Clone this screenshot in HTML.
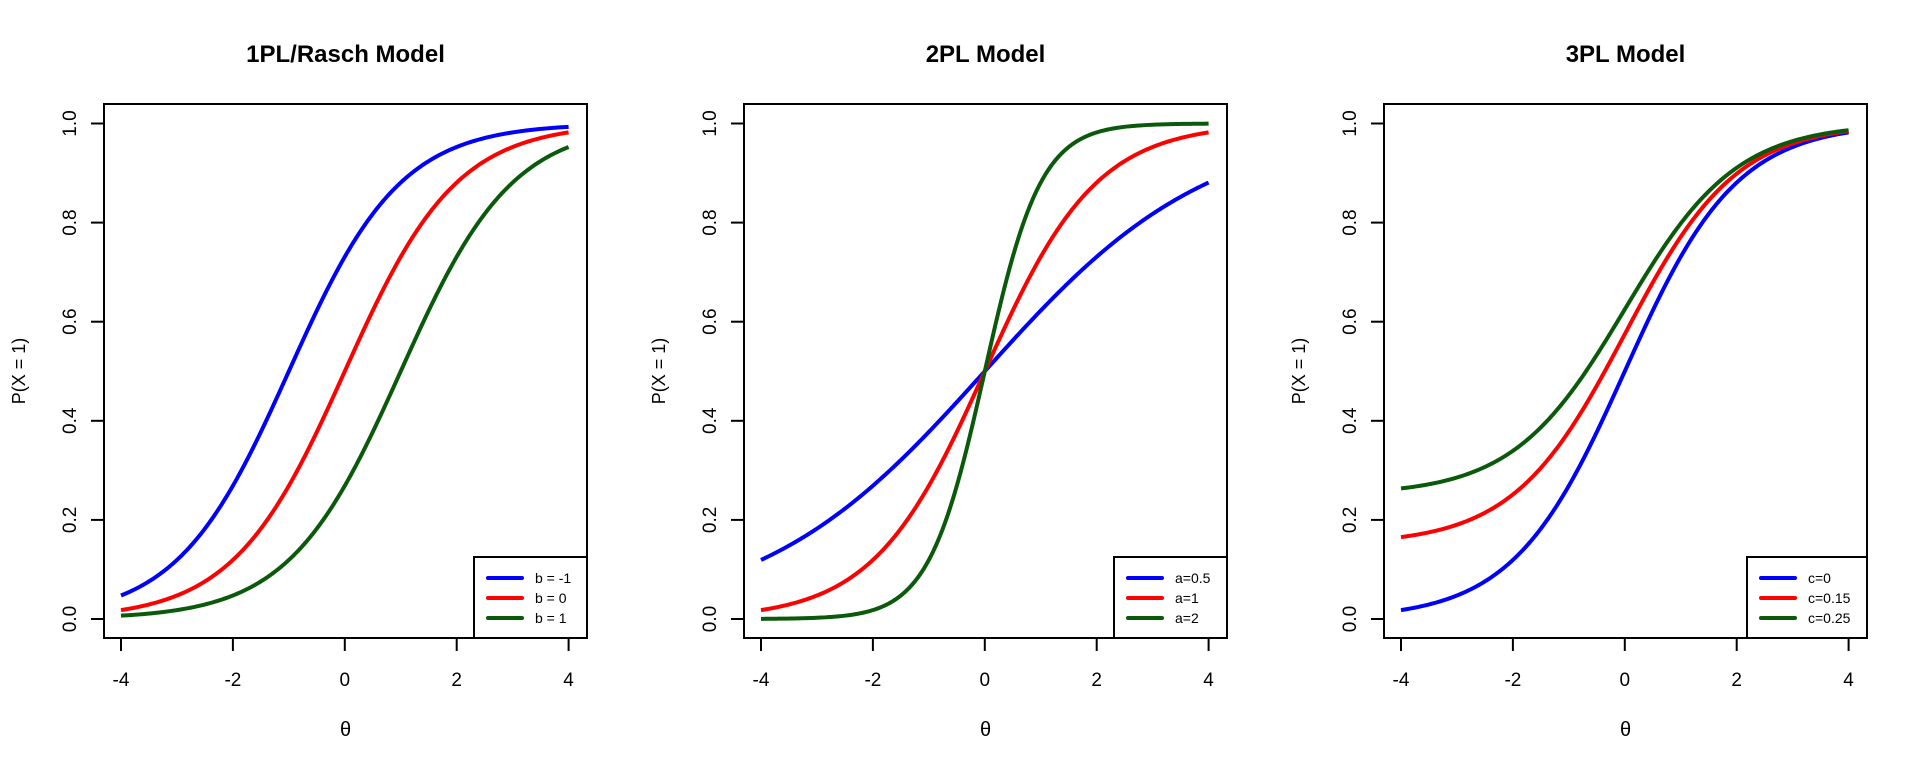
<!DOCTYPE html>
<html><head><meta charset="utf-8"><style>
html,body{margin:0;padding:0;background:#fff;}
svg{display:block;}
text{font-family:"Liberation Sans",sans-serif;fill:#000;}
</style></head><body>
<svg id="s" width="1920" height="768" xmlns="http://www.w3.org/2000/svg"></svg>
<script>
var s=document.getElementById('s'),h='';
var L=104,R=587,T=104,B=638,x0=121,xs=(568.6-121)/8,y0=619,ys=495.5;
var titles=['1PL/Rasch Model','2PL Model','3PL Model'];
var cols=['#0000ff','#ff0000','#0b5a0b'];
var legs=[['b = -1','b = 0','b = 1'],['a=0.5','a=1','a=2'],['c=0','c=0.15','c=0.25']];
var legL=[474,474,467];
var fns=[
 [function(t){return 1/(1+Math.exp(-(t+1)))},function(t){return 1/(1+Math.exp(-t))},function(t){return 1/(1+Math.exp(-(t-1)))}],
 [function(t){return 1/(1+Math.exp(-0.5*t))},function(t){return 1/(1+Math.exp(-t))},function(t){return 1/(1+Math.exp(-2*t))}],
 [function(t){return 1/(1+Math.exp(-t))},function(t){return 0.15+0.85/(1+Math.exp(-t))},function(t){return 0.25+0.75/(1+Math.exp(-t))}]
];
for(var p=0;p<3;p++){
 var o=p*640;
 h+='<g transform="translate('+o+',0)">';
 h+='<text x="'+((L+R)/2)+'" y="62" font-size="24" font-weight="bold" text-anchor="middle">'+titles[p]+'</text>';
 for(var k=0;k<3;k++){
  var pts=[];
  for(var i=0;i<=200;i++){var t=-4+8*i/200;pts.push((x0+(t+4)*xs).toFixed(2)+','+(y0-fns[p][k](t)*ys).toFixed(2));}
  h+='<polyline points="'+pts.join(' ')+'" fill="none" stroke="'+cols[k]+'" stroke-width="4" stroke-linejoin="round"/>';
 }
 h+='<rect x="'+L+'" y="'+T+'" width="'+(R-L)+'" height="'+(B-T)+'" fill="none" stroke="#000" stroke-width="2"/>';
 for(var v=-4;v<=4;v+=2){var x=x0+(v+4)*xs;h+='<line x1="'+x+'" y1="'+B+'" x2="'+x+'" y2="'+(B+13)+'" stroke="#000" stroke-width="2"/><text x="'+x+'" y="686" font-size="19" text-anchor="middle">'+v+'</text>';}
 for(var j=0;j<=5;j++){var y=y0-j*0.2*ys;h+='<line x1="'+L+'" y1="'+y+'" x2="'+(L-13)+'" y2="'+y+'" stroke="#000" stroke-width="2"/><text transform="translate(76,'+y+') rotate(-90)" font-size="19" text-anchor="middle">'+(j*0.2).toFixed(1)+'</text>';}
 h+='<text transform="translate(25,'+((T+B)/2)+') rotate(-90)" font-size="18" text-anchor="middle">P(X = 1)</text>';
 h+='<text x="'+((L+R)/2)+'" y="736" font-size="20" font-family="Liberation Serif,serif" text-anchor="middle">θ</text>';
 var ll=legL[p];
 h+='<rect x="'+ll+'" y="557" width="'+(R-ll)+'" height="'+(B-557)+'" fill="#fff" stroke="#000" stroke-width="2"/>';
 for(var k=0;k<3;k++){var y=578+k*20;h+='<line x1="'+(ll+14)+'" y1="'+y+'" x2="'+(ll+48)+'" y2="'+y+'" stroke="'+cols[k]+'" stroke-width="4" stroke-linecap="round"/><text x="'+(ll+61)+'" y="'+(y+5)+'" font-size="14">'+legs[p][k]+'</text>';}
 h+='</g>';
}
s.innerHTML=h;
</script>
</body></html>
